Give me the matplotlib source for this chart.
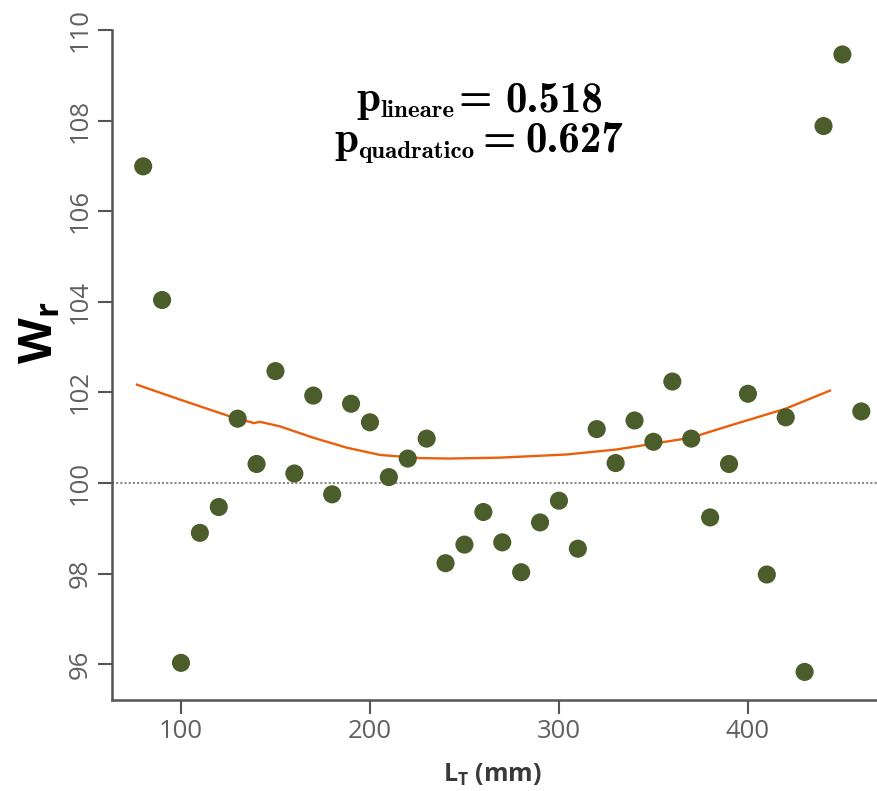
#!/usr/bin/env python3
from __future__ import annotations

import matplotlib

matplotlib.use("Agg")
import matplotlib.pyplot as plt
from matplotlib.transforms import IdentityTransform


OUTPUT_PNG = "out.png"

# total length classes (mm) and relative weight per class
LENGTH_MM = [80, 90, 100, 110, 120, 130, 140, 150, 160, 170,
             180, 190, 200, 210, 220, 230, 240, 250, 260, 270,
             280, 290, 300, 310, 320, 330, 340, 350, 360, 370,
             380, 390, 400, 410, 420, 430, 440, 450, 460]
WR = [106.99, 104.04, 96.03, 98.90, 99.47, 101.42, 100.42, 102.47, 100.21, 101.93,
      99.75, 101.75, 101.34, 100.13, 100.54, 100.98, 98.23, 98.64, 99.36, 98.69,
      98.03, 99.13, 99.61, 98.55, 101.19, 100.44, 101.38, 100.91, 102.24, 100.98,
      99.24, 100.42, 101.97, 97.98, 101.45, 95.83, 107.88, 109.46, 101.58]

# smoothed trend line
TREND_X = [76.7, 99.6, 129.5, 137.4, 138.1, 141.8, 152.4, 170.0, 187.7, 205.3,
           220.5, 226.5, 242.3, 268.8, 304.1, 330.5, 350.3, 369.8, 392.2, 419.9, 443.4]
TREND_Y = [102.17, 101.84, 101.42, 101.34, 101.32, 101.35, 101.25, 101.00, 100.78, 100.62,
           100.57, 100.55, 100.54, 100.56, 100.63, 100.74, 100.87, 101.00, 101.29, 101.64, 102.04]

X_TICKS = [100, 200, 300, 400]
Y_TICKS = [96, 98, 100, 102, 104, 106, 108, 110]
REFERENCE_WR = 100

P_LINEAR = "0.518"
P_QUADRATIC = "0.627"

W, H = 877, 791
SERIF_BOLD = "cmb10"


def write_pvalue(fig, renderer, center_x, baseline_y, sub, value, gaps):
    """Lay out p_sub = value from pieces, centred on center_x (pixels)."""
    pieces = [
        ("p", 31, 0),
        (sub, 18, -6),
        ("=", 31, 0),
        (value, 31, 0),
    ]
    texts = []
    for s, size, dy in pieces:
        t = fig.text(0, baseline_y + dy, s, transform=IdentityTransform(),
                     family=SERIF_BOLD, fontsize=size, va="baseline", ha="left")
        texts.append(t)
    widths = [t.get_window_extent(renderer).width for t in texts]
    total = sum(widths) + sum(gaps)
    x = center_x - total / 2
    for i, t in enumerate(texts):
        t.set_x(x)
        x += widths[i] + (gaps[i] if i < len(gaps) else 0)


def main() -> int:
    plt.rcParams["mathtext.fontset"] = "custom"
    plt.rcParams["mathtext.bf"] = "Open Sans:bold"

    fig = plt.figure(figsize=(W / 100, H / 100), dpi=100)
    ax = fig.add_axes([112 / W, 1 - 700 / H, (W - 112) / W, 670 / H])

    ax.axhline(REFERENCE_WR, color="#8a8a8a", linestyle=(0, (1, 1)), linewidth=1.5, zorder=1)
    ax.plot(TREND_X, TREND_Y, color="#ea5f0c", linewidth=1.7, zorder=2)
    ax.scatter(LENGTH_MM, WR, s=170, color="#4a5d2b", edgecolors="none", zorder=3)

    ax.set_xlim(63.5, 468.3)
    ax.set_ylim(95.21, 110)
    ax.set_xticks(X_TICKS)
    ax.set_yticks(Y_TICKS)

    for side in ("top", "right"):
        ax.spines[side].set_visible(False)
    for side in ("left", "bottom"):
        ax.spines[side].set_color("#555555")
        ax.spines[side].set_linewidth(1.8)

    ax.tick_params(direction="out", length=10, width=1.5, color="#555555",
                   labelcolor="#606060", labelsize=18.5, pad=4)
    for lab in ax.get_xticklabels() + ax.get_yticklabels():
        lab.set_family("Open Sans")
    for lab in ax.get_yticklabels():
        lab.set_rotation(90)
        lab.set_va("center")

    fig.text(492 / W, 1 - 775 / H, r"$\mathbf{L_T}$ (mm)", ha="center", va="center",
             fontsize=18, fontweight="bold", family="Open Sans", color="#3a3a3a",
             math_fontfamily="custom")
    fig.text(40 / W, 1 - 333 / H, r"$\mathbf{W_r}$", ha="center", va="center",
             rotation=90, fontsize=34, color="black", math_fontfamily="custom")

    renderer = fig.canvas.get_renderer()
    write_pvalue(fig, renderer, 480, H - 111, "lineare", P_LINEAR, [0, 4, 14])
    write_pvalue(fig, renderer, 479, H - 152, "quadratico", P_QUADRATIC, [0, 8, 10])

    fig.savefig(OUTPUT_PNG, dpi=100)
    return 0


if __name__ == "__main__":
    raise SystemExit(main())
